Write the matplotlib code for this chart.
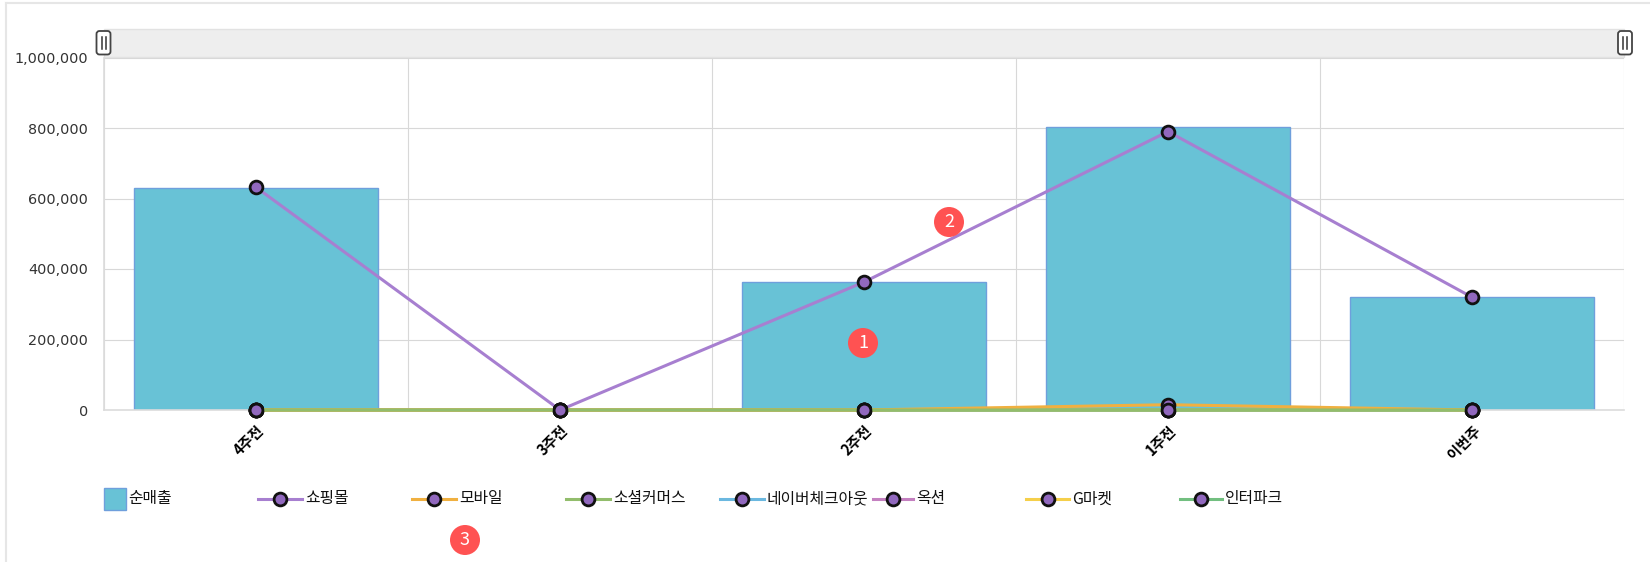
import matplotlib
matplotlib.use("Agg")
import matplotlib.pyplot as plt
from matplotlib.lines import Line2D
from matplotlib.patches import Rectangle, Circle, FancyBboxPatch
from matplotlib.ticker import FuncFormatter, MultipleLocator

KR = ['Noto Sans CJK KR', 'DejaVu Sans']

categories = ['4주전', '3주전', '2주전', '1주전', '이번주']
net_sales = [630000, 0, 362000, 803000, 320000]
shopping_mall = [632000, 0, 363000, 790000, 320000]
mobile = [0, 0, 0, 15000, 0]
social = [0, 0, 0, 0, 0]
naver = [0, 0, 0, 0, 0]
auction = [0, 0, 0, 0, 0]
gmarket = [0, 0, 0, 0, 0]
interpark = [0, 0, 0, 0, 0]

bar_name = '순매출'
line_series = [
    ('쇼핑몰', shopping_mall, '#a77fd0'),
    ('네이버체크아웃', naver, '#6bb8e0'),
    ('옥션', auction, '#c480c0'),
    ('G마켓', gmarket, '#f5cf4a'),
    ('인터파크', interpark, '#72bf80'),
    ('모바일', mobile, '#f0b040'),
    ('소셜커머스', social, '#92bd6c'),
]
legend_order = ['쇼핑몰', '모바일', '소셜커머스', '네이버체크아웃', '옥션', 'G마켓', '인터파크']
legend_x0 = [258, 412, 566, 720, 873, 1026, 1180]
legend_x1 = [302, 456, 610, 764, 913, 1069, 1222]

W, H = 1650, 562
fig = plt.figure(figsize=(W / 100, H / 100), dpi=100, facecolor='white')

bg = fig.add_axes([0, 0, 1, 1], zorder=0)
bg.set_xlim(0, W); bg.set_ylim(H, 0); bg.axis('off')
fg = fig.add_axes([0, 0, 1, 1], zorder=5)
fg.set_xlim(0, W); fg.set_ylim(H, 0); fg.axis('off'); fg.patch.set_alpha(0)

L, R, T, B = 104, 1624, 57.5, 410
ax = fig.add_axes([L / W, 1 - B / H, (R - L) / W, (B - T) / H], zorder=2)
ax.set_xlim(-0.5, 4.5)
ax.set_ylim(0, 1000000)
ax.patch.set_alpha(0)

ax.yaxis.set_major_locator(MultipleLocator(200000))
ax.yaxis.set_major_formatter(FuncFormatter(lambda v, _: f'{int(v):,}'))
ax.tick_params(axis='y', length=0, pad=11.5, labelsize=10.4, labelcolor='#333333',
               labelfontfamily='DejaVu Sans')
ax.set_xticks(range(len(categories)))
ax.set_xticklabels(categories, rotation=45, ha='right', va='top', rotation_mode='anchor',
                   family=KR, fontsize=10.5, fontweight='bold', color='black')
ax.tick_params(axis='x', length=0, pad=9)
ax.set_xticks([i + 0.5 for i in range(-1, 5)], minor=True)
ax.tick_params(axis='x', which='minor', length=0)
ax.grid(True, axis='y', which='major', color='#d8d8d8', lw=0.8)
ax.grid(True, axis='x', which='minor', color='#d8d8d8', lw=0.8)
ax.set_axisbelow(True)
for s in ('top', 'right'):
    ax.spines[s].set_visible(False)
for s in ('left', 'bottom'):
    ax.spines[s].set_color('#dcdcdc')
    ax.spines[s].set_linewidth(1.2)

x = range(len(categories))
ax.bar(x, net_sales, width=0.8, color='#68c2d6', edgecolor='#6f9fdc', linewidth=1, zorder=2)
marker_kw = dict(marker='o', ms=9.2, mfc='#9168be', mec='#111111', mew=2.0)
for i, (name, vals, col) in enumerate(line_series):
    ax.plot(x, vals, color=col, lw=2.2, zorder=3 + i * 0.1, clip_on=False, snap=False, **marker_kw)

bg.add_patch(Rectangle((104, 29), 1520, 28, fc='#eeeeee', ec='#e2e2e2', lw=1))
for hx in (103.5, 1625):
    fg.add_patch(FancyBboxPatch((hx - 7, 31), 14, 23.5, boxstyle='round,pad=0,rounding_size=3',
                                fc='white', ec='#444444', lw=1.3))
    fg.plot([hx - 2, hx - 2], [37, 49], color='#333333', lw=1.1)
    fg.plot([hx + 2, hx + 2], [37, 49], color='#333333', lw=1.1)

bg.plot([6, 6], [3, H], color='#e6e6e6', lw=1.5)
bg.plot([6, W], [3, 3], color='#e6e6e6', lw=1.5)

legend_y = 499
fg.add_patch(Rectangle((104, 488), 22, 22, fc='#68c2d6', ec='#6f9fdc', lw=1))
fg.text(128, legend_y, bar_name, family=KR, fontsize=11.4, color='#111111', va='center', ha='left')
colors = {n: c for n, _, c in line_series}
for name, x0, x1 in zip(legend_order, legend_x0, legend_x1):
    fg.add_line(Line2D([x0, x1], [legend_y, legend_y], color=colors[name], lw=2.2))
    fg.add_line(Line2D([(x0 + x1) / 2], [legend_y], **marker_kw))
    fg.text(x1 + 3, legend_y, name, family=KR, fontsize=11.4, color='#111111', va='center', ha='left')

for n, cx, cy in [('1', 863, 343), ('2', 949, 222), ('3', 465, 540)]:
    fg.add_patch(Circle((cx, cy), 15, fc='#ff5252', ec='none'))
    fg.text(cx, cy, n, color='white', fontsize=13, ha='center', va='center', family=KR)

fig.savefig('out.png', dpi=100)
